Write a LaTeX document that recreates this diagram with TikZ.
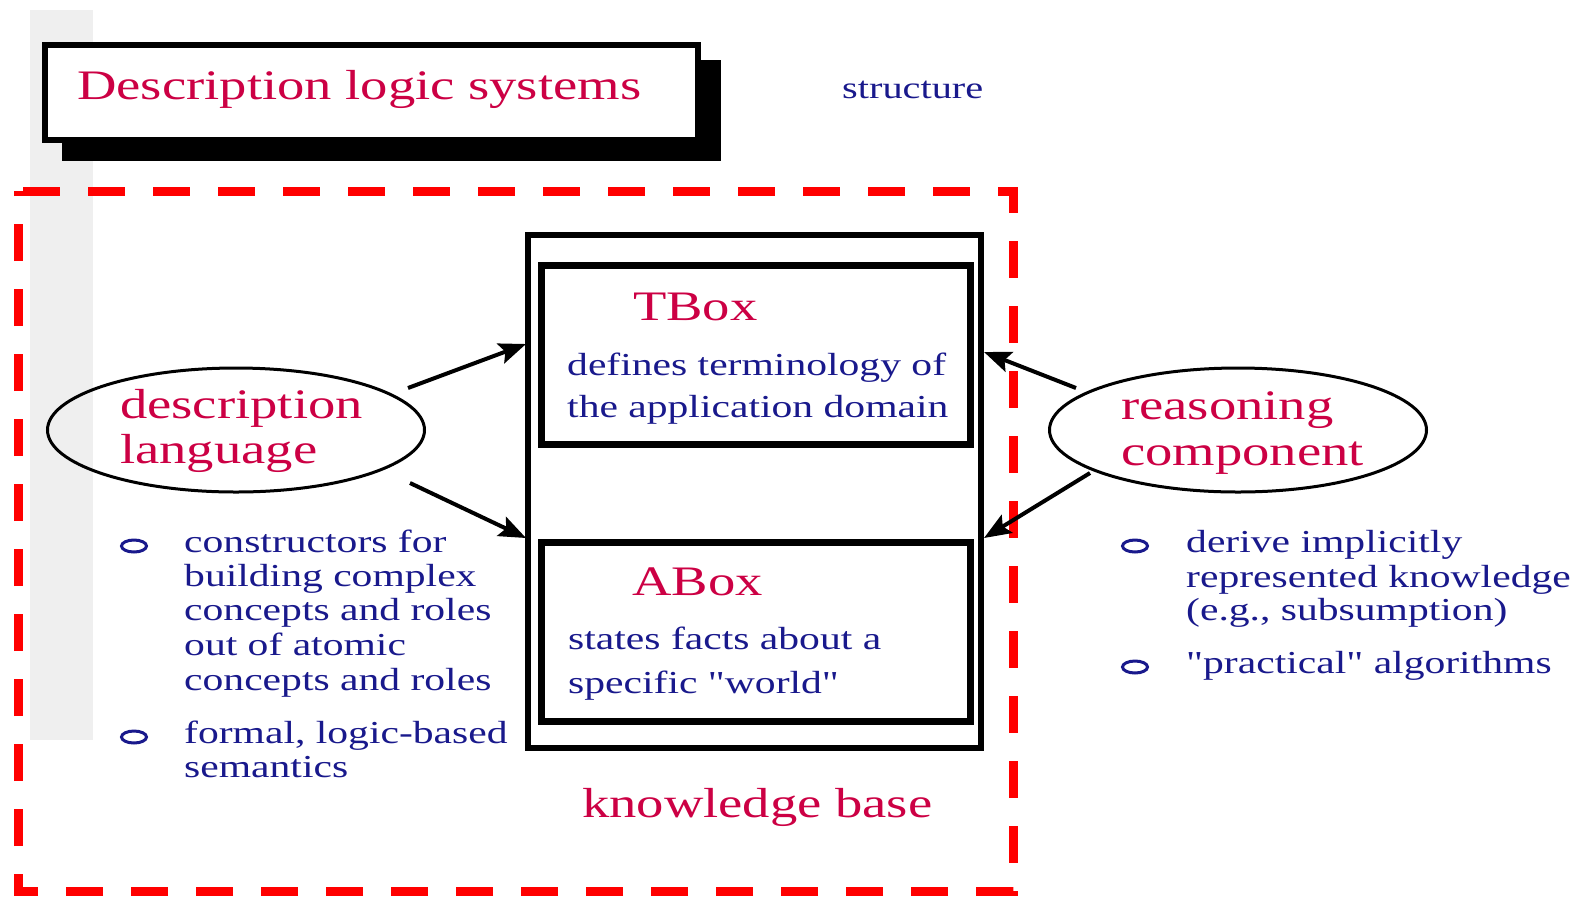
\documentclass[tikz,border=0pt]{standalone}
\usepackage{fontspec}
\newfontfamily\stretchserif[FakeStretch=1.3]{Liberation Serif}
\usetikzlibrary{arrows.meta,shapes.geometric}
\definecolor{crim}{RGB}{204,0,68}
\definecolor{navyt}{RGB}{25,25,140}
\definecolor{stripgray}{RGB}{239,239,239}
\definecolor{dashred}{RGB}{255,0,0}
\begin{document}
\begin{tikzpicture}[x=1pt,y=-1pt,
  big/.style={anchor=base west, inner sep=0pt, text=crim, font=\stretchserif\fontsize{42}{46}\selectfont},
  small/.style={anchor=base west, inner sep=0pt, text=navyt, font=\stretchserif\fontsize{32}{35}\selectfont},
  bul/.style={draw=navyt, ellipse, line width=3pt, minimum width=25pt, minimum height=12pt, inner sep=0pt},
  kbox/.style={draw, line width=6pt, inner sep=0pt},
  ibox/.style={draw, line width=7pt, inner sep=0pt},
  oval/.style={draw, ellipse, line width=3pt, inner sep=0pt, minimum width=377pt, minimum height=124pt},
  arr/.style={line width=4pt, -{Stealth[length=27pt,width=21pt,inset=5pt]}},
  reddash/.style={draw=dashred, line width=9pt, dash pattern=on 37pt off 28pt, dash phase=60pt},
]
\fill[white] (0,0) rectangle (1576,898);
\useasboundingbox (0,0) rectangle (1576,898);
% gray strip
\fill[stripgray] (30,10) rectangle (93,740);
% title with shadow
\fill[black] (62,60) rectangle (721,161);
\node[draw, line width=6pt, fill=white, inner sep=0pt, minimum width=653pt, minimum height=95pt] (titlebox) at (371.5,92.5) {};
\node[big] (title) at (77,99) {Description logic systems};
\node[small, font=\stretchserif\fontsize{31}{34}\selectfont] (struct) at (842,98) {structure};
% red dashed frame
\draw[reddash] (18,191) -- (1013,191) -- (1013,891) -- (18,891) -- cycle;
% knowledge base
\node[kbox, minimum width=453pt, minimum height=513pt] (kb) at (754.5,491.5) {};
\node[ibox, minimum width=429pt, minimum height=178.5pt] (tbox) at (755.5,354.75) {};
\node[ibox, minimum width=429pt, minimum height=179pt] (abox) at (755.5,631.5) {};
\node[big] (tboxt) at (633,320) {TBox};
\node[small] (tb1) at (567,375) {defines terminology of};
\node[small] (tb2) at (567,417) {the application domain};
\node[big] (aboxt) at (632,595) {ABox};
\node[small] (ab1) at (568,649) {states facts about a};
\node[small] (ab2) at (568,693) {specific "world"};
\node[big] (kbt) at (582,817) {knowledge base};
% ellipses
\node[oval] (dl) at (236,430) {};
\node[big] (dl1) at (120,418) {description};
\node[big] (dl2) at (120,463) {language};
\node[oval] (rc) at (1238,430) {};
\node[big] (rc1) at (1121,419) {reasoning};
\node[big] (rc2) at (1121,465) {component};
% arrows
\coordinate (la1s) at (408,388);
\coordinate (la1e) at (526,344);
\coordinate (la2s) at (410,483);
\coordinate (la2e) at (526,538);
\coordinate (ra1s) at (1076,388);
\coordinate (ra1e) at (984,352);
\coordinate (ra2s) at (1090,473);
\coordinate (ra2e) at (984,538);
\draw[arr] (la1s) -- (la1e);
\draw[arr] (la2s) -- (la2e);
\draw[arr] (ra1s) -- (ra1e);
\draw[arr] (ra2s) -- (ra2e);
% left bullets
\node[bul] (lb1) at (134,546) {};
\node[small] (l1) at (184,552) {constructors for};
\node[small] (l2) at (184,586) {building complex};
\node[small] (l3) at (184,620) {concepts and roles};
\node[small] (l4) at (184,655) {out of atomic};
\node[small] (l5) at (184,690) {concepts and roles};
\node[bul] (lb2) at (134,737) {};
\node[small] (l6) at (184,743) {formal, logic-based};
\node[small] (l7) at (184,777) {semantics};
% right bullets
\node[bul] (rb1) at (1135,546) {};
\node[small] (r1) at (1186,552) {derive implicitly};
\node[small] (r2) at (1186,587) {represented knowledge};
\node[small] (r3) at (1186,620) {(e.g., subsumption)};
\node[bul] (rb2) at (1135,667) {};
\node[small] (r4) at (1186,673) {"practical" algorithms};
\end{tikzpicture}
\end{document}
